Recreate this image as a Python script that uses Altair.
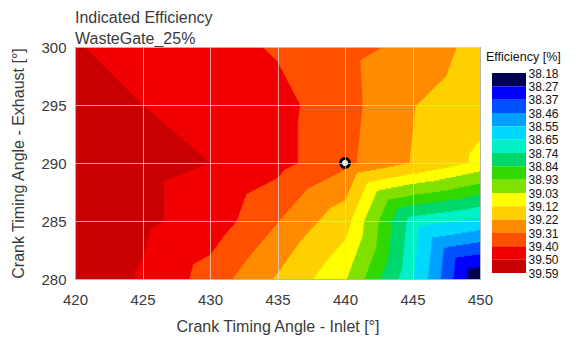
import altair as alt
import numpy as np
import pandas as pd

# ---- data ----
x_grid = [420, 425, 430, 435, 440, 445, 450]          # Crank Timing Angle - Inlet
y_grid = [280, 285, 290, 295, 300]                    # Crank Timing Angle - Exhaust
eff_280 = [39.585, 39.49, 39.36, 39.21, 39.04, 38.66, 38.18]
eff_285 = [39.57, 39.52, 39.456, 39.314, 39.16, 38.70, 38.62]
eff_290 = [39.56, 39.52, 39.50, 39.43, 39.33, 39.215, 39.10]
eff_295 = [39.55, 39.50, 39.46, 39.43, 39.34, 39.225, 39.15]
eff_300 = [39.505, 39.47, 39.435, 39.39, 39.335, 39.29, 39.183]

levels = [38.18, 38.27, 38.37, 38.46, 38.55, 38.65, 38.74, 38.84, 38.93,
          39.03, 39.12, 39.22, 39.31, 39.40, 39.50, 39.59]
level_labels = ["38.18", "38.27", "38.37", "38.46", "38.55", "38.65", "38.74", "38.84",
                "38.93", "39.03", "39.12", "39.22", "39.31", "39.40", "39.50", "39.59"]
band_colors = ["#000050", "#0000ff", "#0050ff", "#00a0ff", "#00d8ff", "#00f0c8",
               "#00d86c", "#30d800", "#80e000", "#ffff00", "#ffd000", "#ff8c00",
               "#ff5000", "#f00000", "#c80000"]

op_x = [440]
op_y = [290]

# ---- filled-contour rendering: linear interpolation on the triangulated grid ----
grid = np.array([eff_280, eff_285, eff_290, eff_295, eff_300])
xs = np.array(x_grid, dtype=float)
ys = np.array(y_grid, dtype=float)


def tri_interp(x, y):
    i = np.clip(np.searchsorted(xs, x, side="right") - 1, 0, len(xs) - 2)
    j = min(max(np.searchsorted(ys, y, side="right") - 1, 0), len(ys) - 2)
    u = (x - xs[i]) / (xs[i + 1] - xs[i])
    w = (y - ys[j]) / (ys[j + 1] - ys[j])
    bl, br = grid[j, i], grid[j, i + 1]
    tl, tr = grid[j + 1, i], grid[j + 1, i + 1]
    lower = bl + u * (br - bl) + w * (tl - bl)
    upper = tr + (1 - u) * (tl - tr) + (1 - w) * (br - tr)
    return np.where(u + w <= 1, lower, upper)


thresholds = np.array(levels[1:-1])
row_h = 0.1
dx = 0.02
xsamp = xs[0] + dx / 2 + dx * np.arange(int(round((xs[-1] - xs[0]) / dx)))
rows = []
for b in range(int(round((ys[-1] - ys[0]) / row_h))):
    y0 = ys[0] + b * row_h
    vals = tri_interp(xsamp, y0 + row_h / 2)
    band = np.searchsorted(thresholds, vals, side="right")
    cuts = np.nonzero(np.diff(band))[0]
    starts = np.concatenate([[0], cuts + 1])
    ends = np.concatenate([cuts, [len(xsamp) - 1]])
    for s, e in zip(starts, ends):
        # each strip overlaps the next one slightly so no seams show
        rows.append({"x0": round(xsamp[s] - dx / 2, 3),
                     "x1": round(min(xsamp[e] + dx / 2 + 0.06, xs[-1]), 3),
                     "y0": round(y0, 3),
                     "y1": round(min(y0 + 2 * row_h, ys[-1]), 3),
                     "eff": round(float(vals[(s + e) // 2]), 4)})
mesh = pd.DataFrame(rows)

thr = alt.Scale(type="threshold", domain=levels[1:-1], range=band_colors)

FONT = "Liberation Sans"
TXT = "#3a3a3a"

cells = alt.Chart(mesh).mark_rect(strokeWidth=0).encode(
    x=alt.X("x0:Q", scale=alt.Scale(domain=[420, 450], nice=False, zero=False),
            axis=alt.Axis(title="Crank Timing Angle - Inlet [°]", values=x_grid,
                          grid=True, gridColor="#d8d8d8", gridOpacity=0.75,
                          domain=False, ticks=False, labelPadding=13, labelFlush=False,
                          labelFontSize=15, titleFontSize=16, titlePadding=11,
                          labelColor=TXT, titleColor=TXT, titleFontWeight="normal",
                          labelFont=FONT, titleFont=FONT, zindex=1)),
    x2="x1:Q",
    y=alt.Y("y0:Q", scale=alt.Scale(domain=[280, 300], nice=False, zero=False),
            axis=alt.Axis(title="Crank Timing Angle - Exhaust [°]", values=y_grid,
                          grid=True, gridColor="#d8d8d8", gridOpacity=0.75,
                          domain=False, ticks=False, labelPadding=9, labelFlush=False,
                          labelFontSize=15, titleFontSize=16, titlePadding=14,
                          labelColor=TXT, titleColor=TXT, titleFontWeight="normal",
                          labelFont=FONT, titleFont=FONT, zindex=1)),
    y2="y1:Q",
    color=alt.Color("eff:Q", scale=thr, legend=None),
)

op_df = pd.DataFrame({"x": op_x, "y": op_y})
marker = alt.Chart(op_df).mark_point(filled=True, fill="white", stroke="black",
                                     strokeWidth=3, size=80, opacity=1).encode(
    x="x:Q", y="y:Q")

main = alt.layer(cells, marker).properties(
    width=405, height=232,
    title=alt.TitleParams(["Indicated Efficiency", "WasteGate_25%"], anchor="start",
                          frame="group", fontSize=16, fontWeight="normal", color=TXT,
                          font=FONT, lineHeight=21, offset=-7),
)

# ---- legend as its own small chart ----
leg_df = pd.DataFrame({
    "lo": list(range(15)),
    "hi": list(range(1, 16)),
    "mid": [(levels[i] + levels[i + 1]) / 2 for i in range(15)],
})
label_expr = "[" + ",".join("'" + s + "'" for s in level_labels) + "][datum.value]"
legend = alt.Chart(leg_df).mark_rect().encode(
    x=alt.value(0), x2=alt.value(34),
    y=alt.Y("lo:Q", scale=alt.Scale(domain=[-1.95, 15.45], reverse=True, nice=False, zero=False),
            axis=alt.Axis(orient="right", values=list(range(16)), labelExpr=label_expr,
                          domain=False, ticks=False, grid=False, title=None,
                          labelFontSize=12, labelColor="#111", labelFont=FONT,
                          labelPadding=2, labelBaseline="middle")),
    y2="hi:Q",
    color=alt.Color("mid:Q", scale=thr, legend=None),
).properties(
    width=34, height=232,
    view=alt.ViewConfig(stroke="transparent"),
    title=alt.TitleParams("Efficiency [%]", anchor="start", frame="group", fontSize=12.5,
                          fontWeight="normal", color="#111", font=FONT, dx=-6, dy=20),
)

chart = alt.hconcat(main, legend, spacing=12, bounds="flush").configure_view(
    stroke="#505050", strokeWidth=1
).properties(padding={"left": 2, "top": 1, "right": 0, "bottom": 0})

chart.save("out.html", embed_options={"renderer": "svg", "actions": False})
